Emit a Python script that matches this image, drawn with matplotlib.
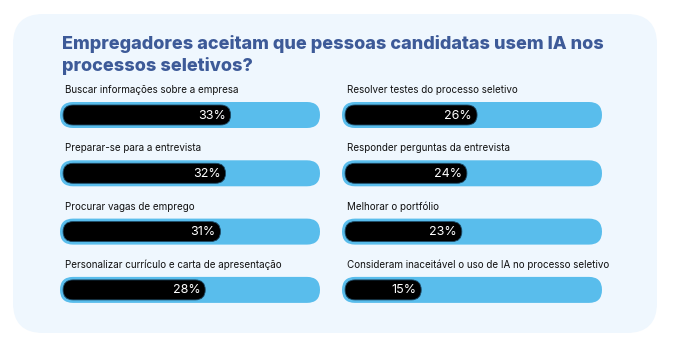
import numpy as np
import matplotlib
matplotlib.use('Agg')
import matplotlib.pyplot as plt
from matplotlib.patches import FancyBboxPatch

# data
title = 'Empregadores aceitam que pessoas candidatas usem IA nos\nprocessos seletivos?'
left_labels = ['Buscar informações sobre a empresa', 'Preparar-se para a entrevista',
               'Procurar vagas de emprego', 'Personalizar currículo e carta de apresentação']
left_values = [33, 32, 31, 28]
right_labels = ['Resolver testes do processo seletivo', 'Responder perguntas da entrevista',
                'Melhorar o portfólio', 'Consideram inaceitável o uso de IA no processo seletivo']
right_values = [26, 24, 23, 15]
scale_max = 50  # full track

# -- styles -- #
plt.rcParams['font.family'] = ['Inter', 'DejaVu Sans']
W, H = 673, 347
panel_col = '#eff7fe'
track_col = '#59bdec'
fill_col = '#000000'
title_col = '#3d5a98'
# ------------ #

fig = plt.figure(figsize=(W / 100, H / 100), dpi=100)
fig.patch.set_facecolor('white')

# background panel (pixel coords)
bg = fig.add_axes([0, 0, 1, 1])
bg.set_xlim(0, W)
bg.set_ylim(H, 0)
bg.axis('off')
bg.add_patch(FancyBboxPatch((13, 14), 644, 319, boxstyle='round,pad=0,rounding_size=30',
                            fc=panel_col, ec='none'))

fig.text(62 / W, 1 - 35 / H, title, fontsize=13.0, fontweight='heavy', color=title_col,
         va='top', ha='left', linespacing=1.3)

row_px = 58.3
px_x = (scale_max + 1.2) / 260  # data units per pixel in x
px_y = 1 / row_px
aspect = px_y / px_x


def column(x0, labels, values):
    ax = fig.add_axes([x0 / W, 1 - 310 / H, 260 / W, 230 / H])
    ax.set_xlim(-0.6, scale_max + 0.6)
    ax.set_ylim((310 - 115) / row_px, (80 - 115) / row_px)
    ax.axis('off')
    for i, (lab, v) in enumerate(zip(labels, values)):
        th = 26 * px_y
        fh = 20 * px_y
        ax.add_patch(FancyBboxPatch((-0.6, i - th / 2), scale_max + 1.2, th,
                                    boxstyle=f'round,pad=0,rounding_size={13 * px_x}',
                                    mutation_aspect=aspect, fc=track_col, ec='none'))
        ax.add_patch(FancyBboxPatch((0, i - fh / 2), v, fh,
                                    boxstyle=f'round,pad=0,rounding_size={10 * px_x}',
                                    mutation_aspect=aspect, fc=fill_col, ec='#1d4a66', lw=0.6))
        ax.text(v - 1.0, i + 0.01, f'{v}%', color='white', fontsize=9,
                ha='right', va='center')
        ax.text(0.4, i - 25 * px_y, lab, color='#111111', fontsize=7.1,
                ha='left', va='center')


column(60, left_labels, left_values)
column(342, right_labels, right_values)

plt.savefig('out.png', dpi=100, facecolor='white')
